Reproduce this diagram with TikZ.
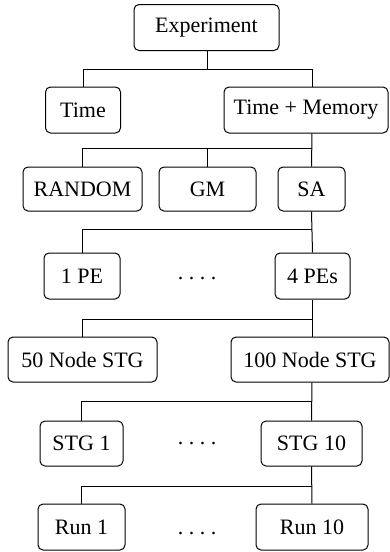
\documentclass[tikz,border=0pt]{standalone}
\usepackage{fontspec}
\setmainfont{Liberation Serif}
\usetikzlibrary{calc}

\begin{document}
\begin{tikzpicture}[
  x = 0.5pt,
  y = -0.5pt,
  line width = 0.5pt,
  box/.style={
    draw,
    rounded corners = 2.5pt,
    inner sep = 0pt,
    minimum height = 23pt,
    font = \fontsize{11}{13}\selectfont,
  },
  gap dots/.style={
    font = \fontsize{11}{13}\selectfont,
    inner sep = 0pt,
  },
  ]
  \useasboundingbox (0,0) rectangle (390,552);

  % top levels
  \node [box, minimum width = 72.5pt] (node-exp) at (206.5,27.5) {Experiment};
  \node [box, minimum width = 37.5pt] (node-time) at (83,110) {Time};
  \node [box, minimum width = 82pt] (node-timemem) at (306,110) {Time + Memory};

  % algorithms
  \node [box, minimum width = 59.5pt, minimum height = 22pt] (node-random) at (82.5,189) {RANDOM};
  \node [box, minimum width = 48.5pt, minimum height = 22pt] (node-gm) at (207.5,189) {GM};
  \node [box, minimum width = 33.5pt, minimum height = 22pt] (node-sa) at (311.5,189) {SA};

  % processing elements
  \node [box, minimum width = 38pt] (node-pe1) at (82,276) {1 PE};
  \node [gap dots] (dots-pe) at (197,279) {.\ .\ .\ .};
  \node [box, minimum width = 37.5pt] (node-pe4) at (312.5,276) {4 PEs};

  % graph sizes
  \node [box, minimum width = 74.5pt, minimum height = 22.5pt] (node-stg50) at (82.5,359.5) {50 Node STG};
  \node [box, minimum width = 79pt, minimum height = 22.5pt] (node-stg100) at (310,359.5) {100 Node STG};

  % graph instances
  \node [box, minimum width = 41.5pt, minimum height = 22.5pt] (node-stg1) at (81.5,443.5) {STG 1};
  \node [gap dots] (dots-stg) at (197,444) {.\ .\ .\ .};
  \node [box, minimum width = 50.5pt, minimum height = 22.5pt] (node-stg10) at (311.5,443.5) {STG 10};

  % runs
  \node [box, minimum width = 43.5pt] (node-run1) at (81.5,527) {Run 1};
  \node [gap dots] (dots-run) at (197,534) {.\ .\ .\ .};
  \node [box, minimum width = 56pt] (node-run10) at (312,527) {Run 10};

  % connectors
  \coordinate (bus-1) at (207,69);
  \coordinate (bus-2) at (312,148);
  \coordinate (bus-3) at (312,229);
  \coordinate (bus-4) at (312,319);
  \coordinate (bus-5) at (312,401);
  \coordinate (bus-6) at (312,486);

  \draw ([xshift=0.25pt]node-exp.south) |- (bus-1);
  \draw (node-time.north) |- ([xshift=3pt]node-timemem.north |- bus-1) -- ([xshift=3pt]node-timemem.north);

  \draw ([xshift=3pt]node-timemem.south) -- (node-sa.north);
  \draw (node-random.north) |- (bus-2);
  \draw (node-gm.north) -- (node-gm.north |- bus-2);

  \draw (node-sa.south) -- (node-pe4.north);
  \draw (node-pe1.north) |- (bus-3);

  \draw (node-pe4.south) -- (node-pe4.south |- node-stg100.north);
  \draw (node-stg50.north) |- (bus-4);

  \draw ([xshift=1pt]node-stg100.south) -- (node-stg10.north);
  \draw (node-stg1.north) |- (bus-5);

  \draw (node-stg10.south) -- (node-run10.north);
  \draw (node-run1.north) |- (bus-6);
\end{tikzpicture}
\end{document}
